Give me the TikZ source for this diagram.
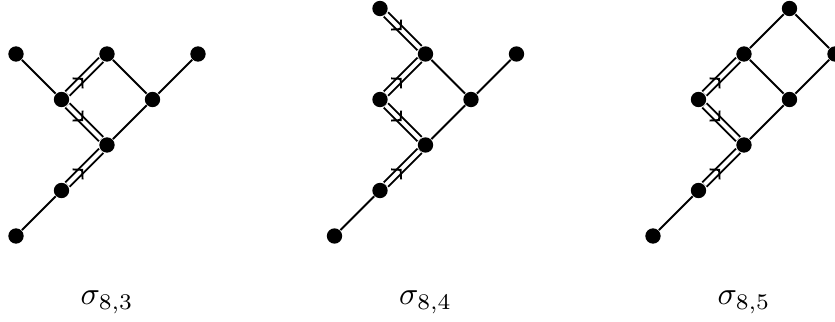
\documentclass[tikz,border=0pt]{standalone}
\usetikzlibrary{arrows.meta,decorations.markings}
\tikzset{
  >={Straight Barb[length=2pt,width=4.4pt]},
  dot/.style={circle,fill=black,inner sep=0pt,minimum size=4.8pt},
  plain/.style={line width=0.65pt},
  flow/.style={line width=0.6pt,double,double distance=1.3pt,
    postaction={decorate},
    decoration={markings,mark=at position 0.55 with {\arrow{>}}}},
  tag/.style={font=\normalsize},
}
\begin{document}
\begin{tikzpicture}[x=0.5cm,y=0.5cm]
  \useasboundingbox (-0.352,-1.89) rectangle (18.0,5.187);
  % sigma_{8,3}
  \node[dot] (a0) at (0,0) {};
  \node[dot] (a1) at (1,1) {};
  \node[dot] (a2) at (2,2) {};
  \node[dot] (a3) at (1,3) {};
  \node[dot] (a4) at (3,3) {};
  \node[dot] (a5) at (0,4) {};
  \node[dot] (a6) at (2,4) {};
  \node[dot] (a7) at (4,4) {};
  \draw[plain] (a0) -- (a1) (a5) -- (a3) (a6) -- (a4) (a2) -- (a4) -- (a7);
  \draw[flow] (a1) -- (a2);
  \draw[flow] (a3) -- (a2);
  \draw[flow] (a3) -- (a6);
  \node[tag] (la) at (2,-1.45) {$\sigma_{8,3}$};
  % sigma_{8,4}
  \begin{scope}[shift={(7,0)}]
    \node[dot] (b0) at (0,0) {};
    \node[dot] (b1) at (1,1) {};
    \node[dot] (b2) at (2,2) {};
    \node[dot] (b3) at (1,3) {};
    \node[dot] (b4) at (3,3) {};
    \node[dot] (b5) at (1,5) {};
    \node[dot] (b6) at (2,4) {};
    \node[dot] (b7) at (4,4) {};
    \draw[plain] (b0) -- (b1) (b6) -- (b4) (b2) -- (b4) -- (b7);
    \draw[flow] (b1) -- (b2);
    \draw[flow] (b3) -- (b2);
    \draw[flow] (b3) -- (b6);
    \draw[flow] (b5) -- (b6);
    \node[tag] (lb) at (2,-1.45) {$\sigma_{8,4}$};
  \end{scope}
  % sigma_{8,5}
  \begin{scope}[shift={(14,0)}]
    \node[dot] (c0) at (0,0) {};
    \node[dot] (c1) at (1,1) {};
    \node[dot] (c2) at (2,2) {};
    \node[dot] (c3) at (1,3) {};
    \node[dot] (c4) at (3,3) {};
    \node[dot] (c5) at (3,5) {};
    \node[dot] (c6) at (2,4) {};
    \node[dot] (c7) at (4,4) {};
    \draw[plain] (c0) -- (c1) (c6) -- (c4) (c2) -- (c4) -- (c7)
      (c6) -- (c5) -- (c7);
    \draw[flow] (c1) -- (c2);
    \draw[flow] (c3) -- (c2);
    \draw[flow] (c3) -- (c6);
    \node[tag] (lc) at (2,-1.45) {$\sigma_{8,5}$};
  \end{scope}
\end{tikzpicture}
\end{document}
